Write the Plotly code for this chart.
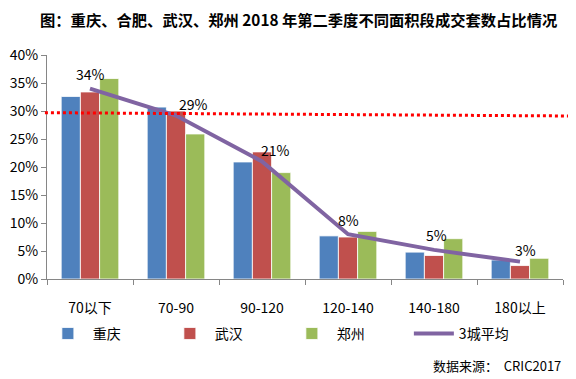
import plotly.graph_objects as go

categories = ["70以下", "70-90", "90-120", "120-140", "140-180", "180以上"]
chongqing = [32.6, 30.7, 20.9, 7.7, 4.8, 3.4]
wuhan = [33.4, 30.0, 22.7, 7.5, 4.2, 2.4]
zhengzhou = [35.8, 25.9, 19.0, 8.5, 7.2, 3.7]
avg3 = [34.0, 29.2, 21.0, 8.0, 5.2, 3.1]
avg_labels = ["34%", "29%", "21%", "8%", "5%", "3%"]
ref_line = [29.7, 29.1]
y_ticks = [0, 5, 10, 15, 20, 25, 30, 35, 40]

FONT = "Noto Sans CJK SC, Noto Sans, sans-serif"

fig = go.Figure()
bar_line = dict(color="rgba(255,255,255,0.8)", width=1)
fig.add_trace(go.Bar(x=categories, y=chongqing, name="重庆",
                     marker=dict(color="#4F81BD", line=bar_line)))
fig.add_trace(go.Bar(x=categories, y=wuhan, name="武汉",
                     marker=dict(color="#C0504D", line=bar_line)))
fig.add_trace(go.Bar(x=categories, y=zhengzhou, name="郑州",
                     marker=dict(color="#9BBB59", line=bar_line)))
fig.add_trace(go.Scatter(x=categories, y=avg3, name="3城平均", mode="lines",
                         line=dict(color="#8064A2", width=4)))

label_xshift = [0, 17, 13, 0, 2, 5]
label_yshift = [15, 11, 11, 14, 15, 12]
for c, v, t, xs, ys in zip(categories, avg3, avg_labels, label_xshift, label_yshift):
    fig.add_annotation(x=c, y=v, text=t, showarrow=False, xshift=xs, yshift=ys,
                       font=dict(size=14, color="#000000", family=FONT))

fig.add_shape(type="line", xref="paper", yref="y", x0=-0.004, x1=1.03,
              y0=ref_line[0], y1=ref_line[1],
              line=dict(color="#FF0000", width=3, dash="dot"))

fig.add_annotation(text="<b>图：重庆、合肥、武汉、郑州 2018 年第二季度不同面积段成交套数占比情况</b>",
                   xref="paper", yref="paper", x=0.487, y=1.0, yshift=36,
                   xanchor="center", yanchor="middle", showarrow=False, borderpad=0,
                   font=dict(size=15.3, color="#000000", family=FONT))
fig.add_annotation(text="数据来源：  CRIC2017", xref="paper", yref="paper",
                   x=1.0, y=-0.385, xanchor="right", yanchor="middle", showarrow=False,
                   font=dict(size=13, color="#000000", family=FONT))

fig.update_layout(
    width=568, height=371,
    margin=dict(l=39, r=13, t=47, b=100, autoexpand=False),
    paper_bgcolor="white", plot_bgcolor="white",
    barmode="group", bargap=0.33, bargroupgap=0,
    font=dict(family=FONT, size=14, color="#000000"),
    showlegend=True,
    legend=dict(orientation="h", x=-0.008, y=-0.245, xanchor="left", yanchor="middle",
                entrywidth=67, entrywidthmode="pixels", itemwidth=40,
                font=dict(size=14, family=FONT), bgcolor="rgba(0,0,0,0)"),
    xaxis=dict(type="category", showline=True, linecolor="#868686", linewidth=1,
               ticks="outside", tickson="boundaries", ticklen=5, tickcolor="#868686",
               ticklabelstandoff=16, showgrid=False, automargin=False,
               tickfont=dict(size=14, family=FONT)),
    yaxis=dict(range=[0, 40], tickvals=y_ticks, ticktext=[f"{v}%" for v in y_ticks],
               showline=True, linecolor="#868686", linewidth=1,
               ticks="outside", ticklen=5, tickcolor="#868686", showgrid=False,
               zeroline=False, automargin=False, tickfont=dict(size=14, family=FONT)),
)

fig.write_html("out.html")
